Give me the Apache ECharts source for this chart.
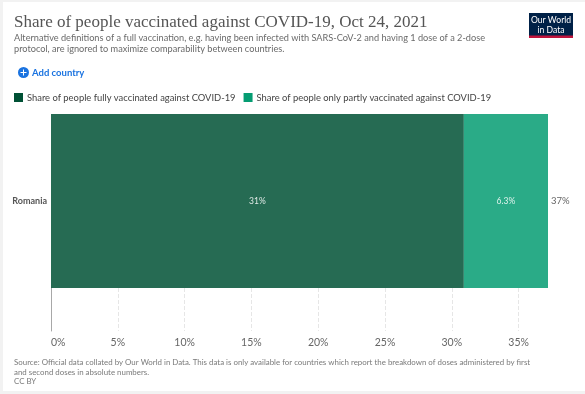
<!DOCTYPE html>
<html>
<head>
<meta charset="utf-8">
<script src="https://cdn.jsdelivr.net/npm/echarts@6/dist/echarts.min.js"></script>
<style>
  html, body { margin: 0; padding: 0; background: #f2f2f2; }
  #chart { width: 585px; height: 394px; }
</style>
</head>
<body>
<div id="chart"></div>
<script>
var countries = ['Romania'];
var fullyVaccinated = [30.9];
var partlyVaccinated = [6.3];
var fullyLabels = ['31%'];
var partlyLabels = ['6.3%'];
var totalLabels = ['37%'];
var axisMax = 37.2;

var fullyName = 'Share of people fully vaccinated against COVID-19';
var partlyName = 'Share of people only partly vaccinated against COVID-19';
var font = 'Lato';

function textBlock(text, left, top, size, color, extra) {
    return {
        text: text,
        left: left,
        top: top,
        padding: 0,
        textStyle: Object.assign({
            fontFamily: font,
            fontSize: size,
            fontWeight: 'normal',
            color: color,
            lineHeight: size + 1.6
        }, extra || {})
    };
}

var myChart = echarts.init(document.getElementById('chart'));

var option = {
    animation: false,
    backgroundColor: 'transparent',
    graphic: [
        // white card behind everything
        { type: 'rect', z: -10, shape: { x: 3, y: 2, width: 582, height: 389 }, style: { fill: '#ffffff' } },
        // logo
        { type: 'rect', shape: { x: 529, y: 13, width: 44, height: 25 }, style: { fill: '#002147' } },
        { type: 'rect', shape: { x: 529, y: 35.5, width: 44, height: 2.5 }, style: { fill: '#c0143c' } },
        { type: 'text', style: { x: 551, y: 15, text: 'Our World\nin Data', fill: '#ffffff', font: '8.6px Lato', lineHeight: 10, align: 'center' } },
        // add country icon
        { type: 'circle', shape: { cx: 23.5, cy: 72.5, r: 5.5 }, style: { fill: '#1a73e0' } },
        { type: 'rect', shape: { x: 20.5, y: 72, width: 6, height: 1 }, style: { fill: '#ffffff' } },
        { type: 'rect', shape: { x: 23, y: 69.5, width: 1, height: 6 }, style: { fill: '#ffffff' } }
    ],
    title: [
        textBlock('Share of people vaccinated against COVID-19, Oct 24, 2021', 14, 13, 17, '#555555', { fontFamily: 'Liberation Serif' }),
        textBlock('Alternative definitions of a full vaccination, e.g. having been infected with SARS-CoV-2 and having 1 dose of a 2-dose\nprotocol, are ignored to maximize comparability between countries.', 14, 33, 9.2, '#6a6a6a'),
        textBlock('Add country', 32, 67, 9.5, '#1a73e0', { fontWeight: 'bold' }),
        textBlock('Source: Official data collated by Our World in Data. This data is only available for countries which report the breakdown of doses administered by first\nand second doses in absolute numbers.\nCC BY', 14, 358, 7.9, '#7a7a7a')
    ],
    legend: {
        left: 9,
        top: 88,
        itemWidth: 9,
        itemHeight: 9,
        itemGap: 8,
        icon: 'rect',
        data: [fullyName, partlyName],
        textStyle: { fontFamily: font, fontSize: 9.4, color: '#444444', padding: [0, 0, 0, -1] },
        itemStyle: { opacity: 1 }
    },
    grid: [
        { left: 51, right: 37, top: 114, height: 174 },
        { left: 51, right: 37, top: 288, height: 43 }
    ],
    xAxis: [
        {
            gridIndex: 0, type: 'value', min: 0, max: axisMax, interval: 5,
            axisLine: { show: false }, axisTick: { show: false },
            axisLabel: { show: false }, splitLine: { show: false }
        },
        {
            gridIndex: 1, type: 'value', min: 0, max: axisMax, interval: 5,
            axisLine: { show: false }, axisTick: { show: false },
            axisLabel: {
                showMaxLabel: false,
                alignMinLabel: 'left',
                margin: 6,
                fontFamily: font,
                fontSize: 10.5,
                color: '#666666',
                formatter: '{value}%'
            },
            splitLine: { show: true, showMaxLine: false, showMinLine: false, lineStyle: { color: '#e6e6e6', type: 'dashed' } }
        }
    ],
    yAxis: [
        {
            gridIndex: 0, type: 'category', data: countries,
            axisLine: { show: false }, axisTick: { show: false },
            axisLabel: { margin: 4, fontFamily: font, fontSize: 9, fontWeight: 'bold', color: '#555555' }
        },
        {
            gridIndex: 1, type: 'category', data: [''],
            axisLine: { show: true, lineStyle: { color: '#a8a8a8', width: 1 } },
            axisTick: { show: false }, axisLabel: { show: false }
        }
    ],
    series: [
        {
            name: fullyName, type: 'bar', stack: 'total', barWidth: '100%',
            xAxisIndex: 0, yAxisIndex: 0, data: fullyVaccinated,
            itemStyle: { color: '#005135', opacity: 0.85 },
            label: {
                show: true, position: 'inside', color: '#ffffff', fontFamily: font, fontSize: 8.5,
                formatter: function (p) { return fullyLabels[p.dataIndex]; }
            }
        },
        {
            name: partlyName, type: 'bar', stack: 'total', barWidth: '100%',
            xAxisIndex: 0, yAxisIndex: 0, data: partlyVaccinated,
            itemStyle: { color: '#059c72', opacity: 0.85 },
            label: {
                show: true, position: 'inside', color: '#ffffff', fontFamily: font, fontSize: 8.5,
                formatter: function (p) { return partlyLabels[p.dataIndex]; }
            }
        },
        {
            // zero width bar, only carries the total label
            name: 'total', type: 'bar', stack: 'total', barWidth: '100%',
            xAxisIndex: 0, yAxisIndex: 0, data: [0],
            itemStyle: { color: 'transparent' },
            label: {
                show: true, position: 'right', distance: 3, color: '#666666', fontFamily: font, fontSize: 9.5,
                formatter: function (p) { return totalLabels[p.dataIndex]; }
            }
        }
    ]
};

myChart.setOption(option);
</script>
</body>
</html>
